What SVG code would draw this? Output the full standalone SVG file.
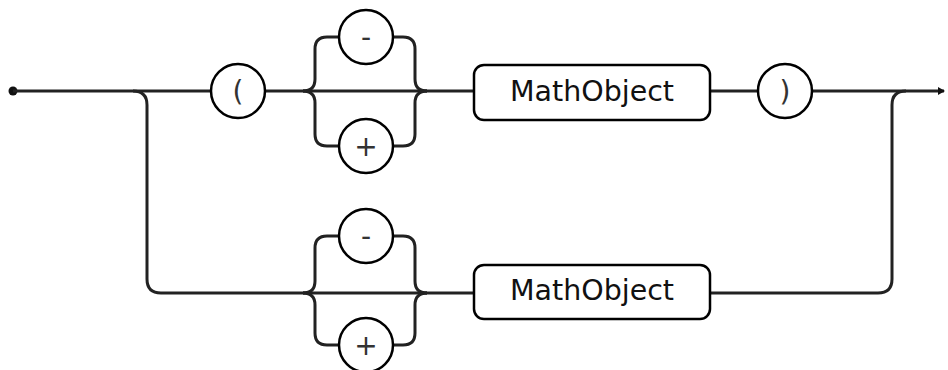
<svg xmlns="http://www.w3.org/2000/svg" width="948" height="370" viewBox="0 0 948 370">
<style>
.c{fill:none;stroke:#222;stroke-width:3}
.n{fill:#fff;stroke:#000;stroke-width:2.5}
.t{font-family:"DejaVu Sans",sans-serif;font-size:28.5px;fill:#111;text-anchor:middle}
.s{font-family:"DejaVu Sans",sans-serif;font-size:28px;fill:#333;text-anchor:middle}
</style>
<defs>
<marker id="arr" markerWidth="8" markerHeight="8" refX="6" refY="4" orient="auto" markerUnits="userSpaceOnUse">
<path d="M0,0 L7,4 L0,8 Z" fill="#111"/>
</marker>
</defs>
<g id="connectors">
<circle cx="13" cy="91" r="4.5" fill="#111"/>
<path class="c" d="M13,91 H211"/>
<path class="c" d="M265,91 H474"/>
<path class="c" d="M710,91 H758"/>
<path class="c" d="M812,91 H944" marker-end="url(#arr)"/>
<path class="c" d="M133,91 Q147,91 147,105 V279 Q147,293 161,293 H474"/>
<path class="c" d="M710,293 H878 Q892,293 892,279 V105 Q892,91 906,91"/>
<path class="c" d="M303,91 Q315,91 315,79 V49 Q315,37 327,37 H339"/>
<path class="c" d="M303,91 Q315,91 315,103 V134 Q315,146 327,146 H339"/>
<path class="c" d="M393,37 H403 Q415,37 415,49 V79 Q415,91 427,91"/>
<path class="c" d="M393,146 H403 Q415,146 415,134 V103 Q415,91 427,91"/>
<path class="c" d="M303,293 Q315,293 315,281 V248 Q315,236 327,236 H339"/>
<path class="c" d="M303,293 Q315,293 315,305 V333 Q315,345 327,345 H339"/>
<path class="c" d="M393,236 H403 Q415,236 415,248 V281 Q415,293 427,293"/>
<path class="c" d="M393,345 H403 Q415,345 415,333 V305 Q415,293 427,293"/>
</g>
<g id="lparen"><circle class="n" cx="238" cy="91" r="27"/><text class="s" x="238" y="101">(</text></g>
<g id="minus1"><circle class="n" cx="366" cy="37" r="27"/><text class="s" x="366" y="47">-</text></g>
<g id="plus1"><circle class="n" cx="366" cy="146" r="27"/><text class="s" x="366" y="156">+</text></g>
<g id="mathobject1"><rect class="n" x="474" y="65" width="236" height="55" rx="10"/><text class="t" x="592" y="101">MathObject</text></g>
<g id="rparen"><circle class="n" cx="785" cy="91" r="27"/><text class="s" x="785" y="101">)</text></g>
<g id="minus2"><circle class="n" cx="366" cy="236" r="27"/><text class="s" x="366" y="246">-</text></g>
<g id="plus2"><circle class="n" cx="366" cy="345" r="27"/><text class="s" x="366" y="355">+</text></g>
<g id="mathobject2"><rect class="n" x="474" y="265" width="236" height="54" rx="10"/><text class="t" x="592" y="300">MathObject</text></g>
</svg>
